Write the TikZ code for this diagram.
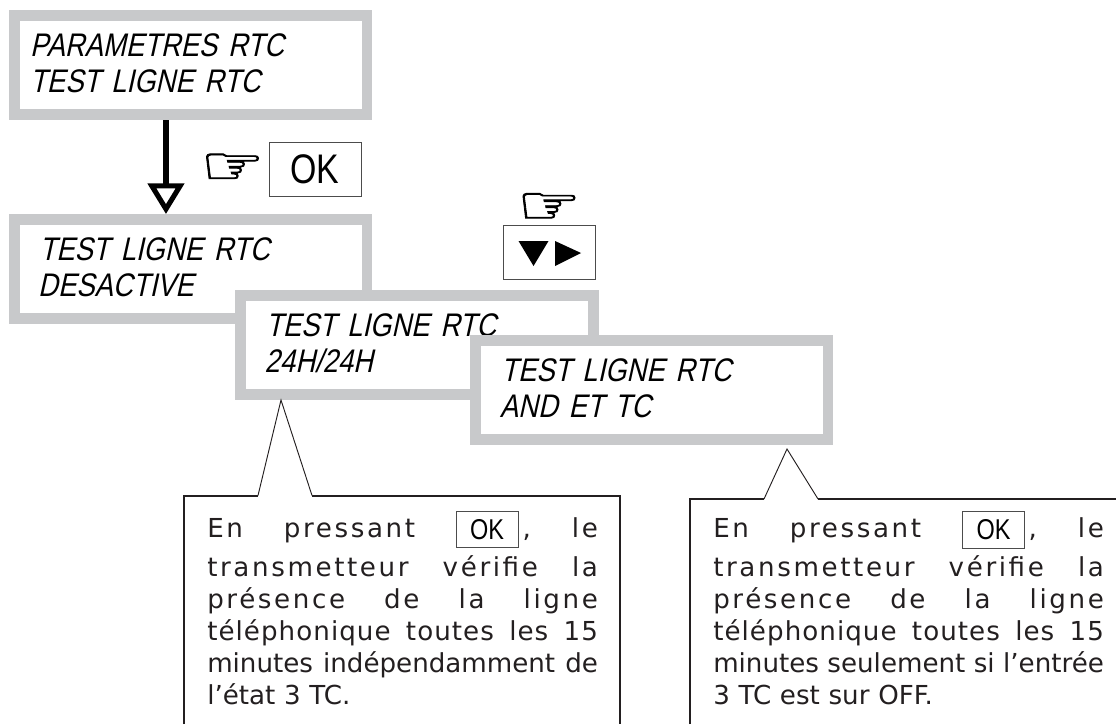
\documentclass[tikz,border=0pt]{standalone}
\usepackage{fontspec}
\usetikzlibrary{arrows.meta}
\setmainfont{DejaVu Sans}
\newfontfamily\lcdfont[FakeSlant=0.22,FakeStretch=0.84]{Liberation Sans}
\newfontfamily\keyfont[FakeStretch=0.82]{Liberation Sans}
\newfontfamily\handfont[FakeBold=1.6,FakeStretch=1.35]{DejaVu Sans}
\definecolor{lcdgrey}{HTML}{C8C9CB}
\definecolor{notetext}{HTML}{231F20}
\newcommand{\fitline}[1]{\makebox[293pt][s]{#1}}
\newcommand{\firstline}{\fitline{En\hfill pressant\hfill\hspace*{50pt},\hfill le}}

\tikzset{
  lcdbox/.style={draw=lcdgrey, fill=white, line width=7.9pt, minimum width=264.4pt, minimum height=74.6pt, inner sep=0pt, text width=264.4pt, align=left, font=\fontsize{24.5}{27}\lcdfont},
  keybox/.style={draw=black!70, line width=.7pt, fill=white, inner sep=0pt},
  smallkey/.style={keybox, minimum width=46.5pt, minimum height=27.5pt, font=\fontsize{21.5}{21.5}\keyfont},
  hand/.style={inner sep=0pt, font=\fontsize{40}{40}\handfont},
  note/.style={inner sep=0pt, anchor=north west, text width=293pt, align=left, text=notetext, font=\fontsize{19.6}{24}\selectfont},
  noteline/.style={draw=notetext, line width=1.5pt},
  wedgeline/.style={draw=notetext, line width=.7pt}
}

\begin{document}
\begin{tikzpicture}[x=.75pt, y=-.75pt]
\useasboundingbox (0,0) rectangle (1116,724);

\node[lcdbox] (lcd1) at (190.5,65) {\hspace*{12pt}\raisebox{2.5pt}{PARAMETRES RTC}\\\hspace*{12pt}\raisebox{2.5pt}{TEST LIGNE RTC}};
\node[lcdbox] (lcd2) at (190.5,269) {\hspace*{19pt}\raisebox{2.5pt}{TEST LIGNE RTC}\\\hspace*{18pt}\raisebox{2.5pt}{DESACTIVE}};
\node[lcdbox] (lcd3) at (417,345) {\hspace*{19pt}\raisebox{2.5pt}{TEST LIGNE RTC}\\\hspace*{18pt}\raisebox{2.5pt}{24H/24H}};
\node[lcdbox] (lcd4) at (651.5,390) {\hspace*{19.5pt}\raisebox{2.5pt}{TEST LIGNE RTC}\\\hspace*{18.5pt}\raisebox{2.5pt}{AND ET TC}};

\draw[line width=3.8pt, -{Triangle[open, length=23pt, width=27pt]}] ([xshift=-18.4pt]lcd1.south) -- ([xshift=-18.4pt]lcd2.north);

\node[keybox, minimum width=69pt, minimum height=40.5pt, font=\fontsize{31}{31}\keyfont] (okmain) at (315,169) {OK};
\node[hand] (hand1) at (232.5,169) {☞};

\node[keybox, minimum width=69pt, minimum height=40pt] (arrowkey) at (549,252.5) {};
\node[hand] (hand2) at (549,208.5) {☞};
\coordinate (down) at (533.5,253);
\coordinate (right) at (568,253);
\fill[black] (down) +(-15,-12) -- +(15,-12) -- +(0,13) -- cycle;
\fill[black] (right) +(-13,-12) -- +(13,0) -- +(-13,13) -- cycle;

% note on the left
\node[note] (note1) at (207,517) {\addfontfeature{LetterSpace=10}%
\firstline\\[5.2pt]
\fitline{transmetteur\hfill vérifie\hfill la}\\
\fitline{présence\hfill de\hfill la\hfill ligne}\\
\addfontfeature{LetterSpace=4}\fitline{téléphonique\hfill toutes\hfill les\hfill 15}\\
\addfontfeature{LetterSpace=0}\fitline{minutes\hfill indépendamment\hfill de}\\
l’état 3 TC.};
\node[smallkey] (oknote1) at (487,529.5) {OK};

% note on the right
\node[note] (note2) at (713,517) {\addfontfeature{LetterSpace=10}%
\firstline\\[5.2pt]
\fitline{transmetteur\hfill vérifie\hfill la}\\
\fitline{présence\hfill de\hfill la\hfill ligne}\\
\addfontfeature{LetterSpace=4}\fitline{téléphonique\hfill toutes\hfill les\hfill 15}\\
\addfontfeature{LetterSpace=0}\fitline{minutes\hfill seulement\hfill si\hfill l’entrée}\\
3 TC est sur OFF.};
\node[smallkey] (oknote2) at (993.5,530) {OK};

\coordinate (tip1) at (281,400);
\coordinate (tip2) at (787,449);
\draw[noteline] (184,724) |- (258,495.5);
\draw[wedgeline] (258,495.5) -- (tip1) -- (312,495.5);
\draw[noteline] (312,495.5) -| (620,724);
\draw[noteline] (690,724) |- (764,499);
\draw[wedgeline] (764,499) -- (tip2) -- (818,499);
\draw[noteline] (818,499) -- (1116,499);

\end{tikzpicture}
\end{document}
